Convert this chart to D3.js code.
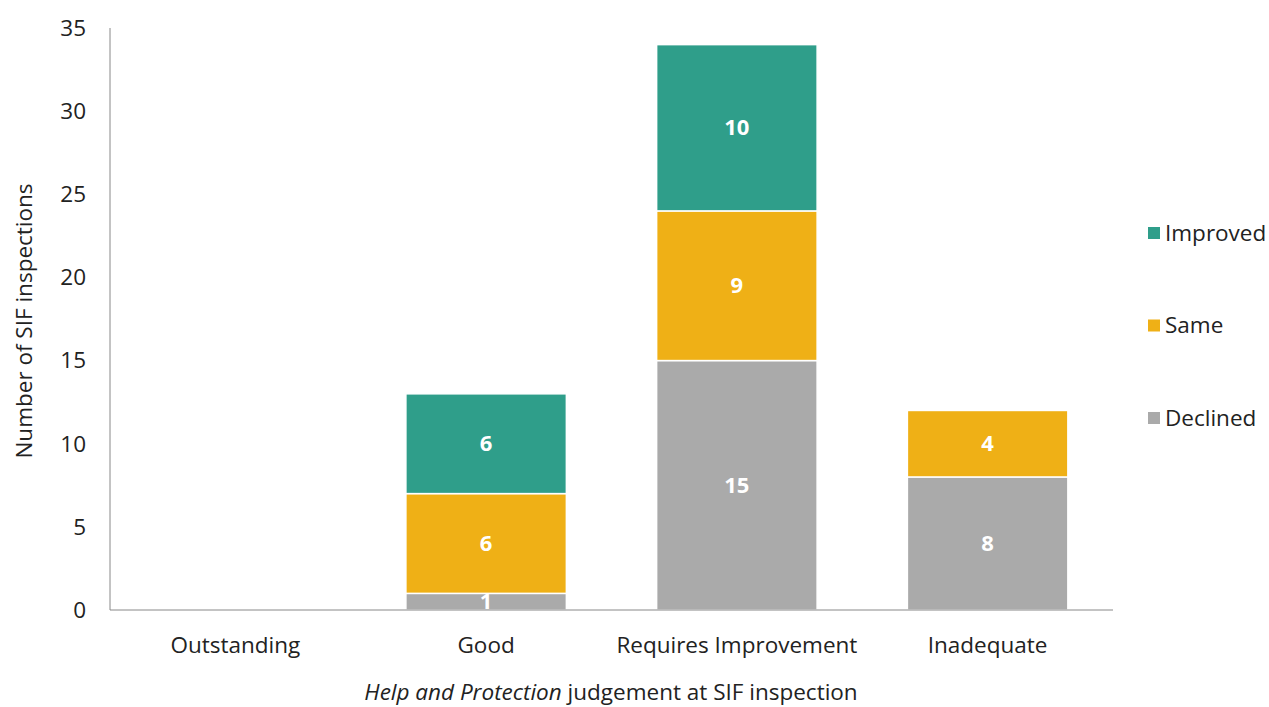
<!DOCTYPE html>
<meta charset="utf-8">
<script src="https://d3js.org/d3.v7.min.js"></script>
<style>
    body { margin: 0; background-color: white; }
    svg { display: block; font-family: "Open Sans", "Noto Sans", sans-serif; }
</style>
<body>
<script>
    // judgement categories and counts per outcome
    var categories = ["Outstanding", "Good", "Requires Improvement", "Inadequate"];
    var declined = [0, 1, 15, 8];
    var same = [0, 6, 9, 4];
    var improved = [0, 6, 10, 0];
    var seriesNames = ["Declined", "Same", "Improved"];
    var yTicks = [0, 5, 10, 15, 20, 25, 30, 35];

    var colors = { "Declined": "#aaaaaa", "Same": "#efb016", "Improved": "#2f9e8a" };

    var width = 1269, height = 707;
    var margin = { top: 28, right: 156, bottom: 97, left: 110 };
    var fs = 22.5;

    var rows = categories.map(function (c, i) {
        return { cat: c, Declined: declined[i], Same: same[i], Improved: improved[i] };
    });

    var svg = d3.select("body").append("svg")
        .attr("width", width)
        .attr("height", height);

    var x = d3.scaleBand()
        .domain(categories)
        .range([margin.left, width - margin.right])
        .paddingInner(0.36)
        .paddingOuter(0.18);

    var y = d3.scaleLinear()
        .domain([0, 35])
        .range([height - margin.bottom, margin.top]);

    // y axis line and labels
    svg.append("line")
        .attr("x1", margin.left).attr("x2", margin.left)
        .attr("y1", y(35)).attr("y2", y(0))
        .attr("stroke", "#888").attr("stroke-width", 1);

    svg.selectAll(".ytick")
        .data(yTicks)
        .enter().append("text")
        .attr("class", "ytick")
        .attr("x", 86)
        .attr("y", function (d) { return y(d); })
        .attr("dy", "0.35em")
        .attr("text-anchor", "end")
        .attr("font-size", fs)
        .attr("fill", "#222")
        .text(function (d) { return d; });

    var stacked = d3.stack().keys(seriesNames)(rows);

    var series = svg.selectAll("g.series")
        .data(stacked)
        .enter().append("g")
        .attr("class", "series")
        .attr("fill", function (d) { return colors[d.key]; });

    series.selectAll("rect")
        .data(function (d) { return d; })
        .enter().append("rect")
        .attr("x", function (d) { return x(d.data.cat); })
        .attr("width", x.bandwidth())
        .attr("y", function (d) { return y(d[1]); })
        .attr("height", function (d) { return y(d[0]) - y(d[1]); })
        .attr("stroke", "white")
        .attr("stroke-width", function (d) { return d[1] > d[0] ? 1.5 : 0; });

    // x axis line on top of the bars
    svg.append("line")
        .attr("x1", margin.left).attr("x2", width - margin.right)
        .attr("y1", y(0)).attr("y2", y(0))
        .attr("stroke", "#888").attr("stroke-width", 1);

    // value labels
    series.selectAll("text")
        .data(function (d) { return d.filter(function (p) { return p[1] > p[0]; }); })
        .enter().append("text")
        .attr("x", function (d) { return x(d.data.cat) + x.bandwidth() / 2; })
        .attr("y", function (d) { return y((d[0] + d[1]) / 2); })
        .attr("dy", "0.35em")
        .attr("text-anchor", "middle")
        .attr("font-size", 22)
        .attr("font-weight", "bold")
        .attr("fill", "white")
        .text(function (d) { return d[1] - d[0]; });

    // category labels
    svg.selectAll(".xlab")
        .data(categories)
        .enter().append("text")
        .attr("class", "xlab")
        .attr("x", function (d) { return x(d) + x.bandwidth() / 2; })
        .attr("y", 653)
        .attr("text-anchor", "middle")
        .attr("font-size", fs)
        .attr("fill", "#222")
        .text(function (d) { return d; });

    // axis titles
    svg.append("text")
        .attr("transform", "translate(32," + (y(17.5) + 2) + ") rotate(-90)")
        .attr("text-anchor", "middle")
        .attr("font-size", fs)
        .attr("fill", "#222")
        .text("Number of SIF inspections");

    var xt = svg.append("text")
        .attr("x", 611)
        .attr("y", 700)
        .attr("text-anchor", "middle")
        .attr("font-size", fs)
        .attr("fill", "#222");
    xt.append("tspan").attr("font-style", "italic").text("Help and Protection");
    xt.append("tspan").text(" judgement at SIF inspection");

    // legend
    var legend = svg.selectAll(".legend")
        .data(seriesNames.slice().reverse())
        .enter().append("g")
        .attr("class", "legend")
        .attr("transform", function (d, i) { return "translate(1148," + (233 + i * 92.5) + ")"; });

    legend.append("rect")
        .attr("x", 0).attr("y", -6)
        .attr("width", 12).attr("height", 12)
        .attr("fill", function (d) { return colors[d]; });

    legend.append("text")
        .attr("x", 17)
        .attr("dy", "0.35em")
        .attr("font-size", fs)
        .attr("fill", "#222")
        .text(function (d) { return d; });
</script>
</body>
